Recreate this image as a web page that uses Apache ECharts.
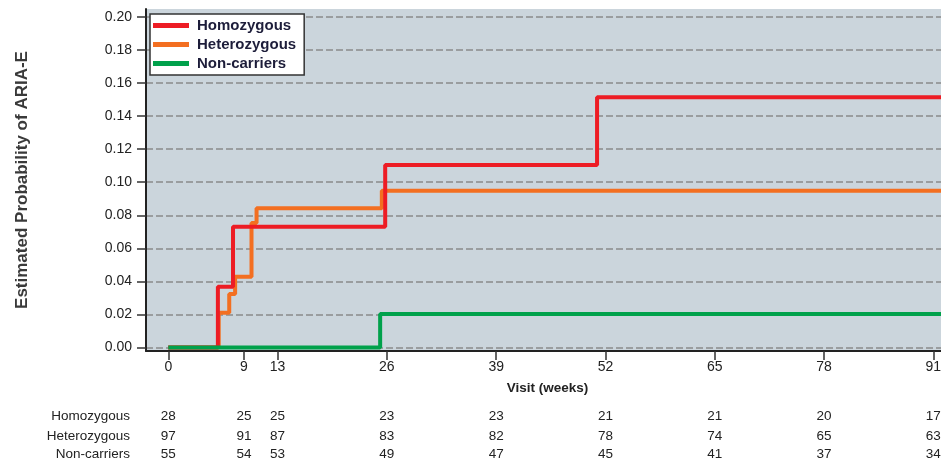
<!DOCTYPE html>
<html>
<head>
<meta charset="utf-8">
<script src="https://cdn.jsdelivr.net/npm/echarts@6/dist/echarts.min.js"></script>
<style>html,body{margin:0;padding:0;background:#fff}#c{width:941px;height:464px}</style>
</head>
<body>
<div id="c"></div>
<script>
// ---- data ----
var seriesNames = ['Homozygous', 'Heterozygous', 'Non-carriers'];
var homozygous = [[0, 0], [5.9, 0.0368], [7.7, 0.0731], [25.8, 0.1104], [51.0, 0.1514], [93, 0.1514]];
var heterozygous = [[0, 0], [6.0, 0.0211], [7.25, 0.0324], [7.95, 0.0428], [9.9, 0.0753], [10.5, 0.0842], [25.4, 0.0949], [93, 0.0949]];
var nonCarriers = [[0, 0], [25.2, 0.0203], [93, 0.0203]];
var xTicks = [0, 9, 13, 26, 39, 52, 65, 78, 91];
var yTicks = [0, 0.02, 0.04, 0.06, 0.08, 0.10, 0.12, 0.14, 0.16, 0.18, 0.20];
var atRiskHomozygous = [28, 25, 25, 23, 23, 21, 21, 20, 17];
var atRiskHeterozygous = [97, 91, 87, 83, 82, 78, 74, 65, 63];
var atRiskNonCarriers = [55, 54, 53, 49, 47, 45, 41, 37, 34];

var colors = ['#ED1C24', '#F36F21', '#00A14B'];
var FONT = 'Liberation Sans, Arial, sans-serif';
var X_MIN = -2.65, X_MAX = 92.86;
var Y_MIN = -0.0021, Y_MAX = 0.2048;

function riskAxis(name, counts, offset) {
  return {
    type: 'value', gridIndex: 0, position: 'bottom', offset: offset,
    min: X_MIN, max: X_MAX,
    axisLine: {show: false}, axisTick: {show: false}, splitLine: {show: false},
    axisLabel: {
      customValues: xTicks, margin: 0, verticalAlign: 'middle',
      fontFamily: FONT, fontSize: 13.5, color: '#222',
      formatter: function (v) {
        var i = xTicks.indexOf(Math.round(v));
        return i >= 0 ? String(counts[i]) : '';
      }
    },
    name: name, nameLocation: 'start', nameGap: 16, nameMoveOverlap: false,
    nameTextStyle: {fontFamily: FONT, fontSize: 13.5, color: '#222', verticalAlign: 'middle', align: 'right'}
  };
}

var chart = echarts.init(document.getElementById('c'), null, {renderer: 'canvas'});
chart.setOption({
  animation: false,
  grid: {
    left: 146, right: -8, top: 9, bottom: 113,
    show: true, backgroundColor: '#CBD5DC', borderWidth: 0,
    containLabel: false, outerBoundsMode: 'none'
  },
  legend: {
    data: seriesNames,
    orient: 'vertical', left: 150, top: 14,
    icon: 'rect', itemWidth: 36, itemHeight: 5, itemGap: 4,
    backgroundColor: '#fff', borderColor: '#333', borderWidth: 1.5, borderRadius: 0,
    padding: [4, 8, 4, 3],
    textStyle: {fontFamily: FONT, fontSize: 15, fontWeight: 'bold', color: '#1d1d3a', padding: [0, 0, 0, 3]}
  },
  xAxis: [
    {
      type: 'value', gridIndex: 0, min: X_MIN, max: X_MAX,
      axisLine: {show: true, onZero: false, lineStyle: {color: '#222', width: 2}},
      axisTick: {show: true, customValues: xTicks, length: 9, lineStyle: {color: '#333', width: 1.5}},
      axisLabel: {customValues: xTicks, margin: 9, fontFamily: FONT, fontSize: 14, color: '#222'},
      splitLine: {show: false},
      name: 'Visit (weeks)', nameLocation: 'middle', nameGap: 30, nameMoveOverlap: false,
      nameTextStyle: {fontFamily: FONT, fontSize: 13.5, fontWeight: 'bold', color: '#222'}
    },
    {
      type: 'value', gridIndex: 0, position: 'bottom', offset: 40, min: X_MIN, max: X_MAX, show: false
    },
    riskAxis('Homozygous', atRiskHomozygous, 65.7),
    riskAxis('Heterozygous', atRiskHeterozygous, 85),
    riskAxis('Non-carriers', atRiskNonCarriers, 103.5)
  ],
  yAxis: {
    type: 'value', min: Y_MIN, max: Y_MAX,
    axisLine: {show: true, onZero: false, lineStyle: {color: '#222', width: 2}},
    axisTick: {show: true, customValues: yTicks, length: 9, lineStyle: {color: '#333', width: 1.5}},
    axisLabel: {customValues: yTicks, margin: 14, fontFamily: FONT, fontSize: 14, color: '#222',
      formatter: function (v) { return v.toFixed(2); }},
    splitLine: {show: true, lineStyle: {color: '#8a8a8a', width: 1.5, type: [7, 3]}},
    name: 'Estimated Probability of ARIA-E', nameLocation: 'middle', nameGap: 115, nameMoveOverlap: false,
    nameTextStyle: {fontFamily: FONT, fontSize: 17, fontWeight: 'bold', color: '#3a3a3a'}
  },
  series: [
    {name: seriesNames[0], type: 'line', step: 'end', data: homozygous, showSymbol: false, symbol: 'none',
      lineStyle: {color: colors[0], width: 4}, itemStyle: {color: colors[0]}, z: 3},
    {name: seriesNames[1], type: 'line', step: 'end', data: heterozygous, showSymbol: false, symbol: 'none',
      lineStyle: {color: colors[1], width: 4}, itemStyle: {color: colors[1]}, z: 2},
    {name: seriesNames[2], type: 'line', step: 'end', data: nonCarriers, showSymbol: false, symbol: 'none',
      lineStyle: {color: colors[2], width: 4}, itemStyle: {color: colors[2]}, z: 4}
  ]
});
</script>
</body>
</html>
